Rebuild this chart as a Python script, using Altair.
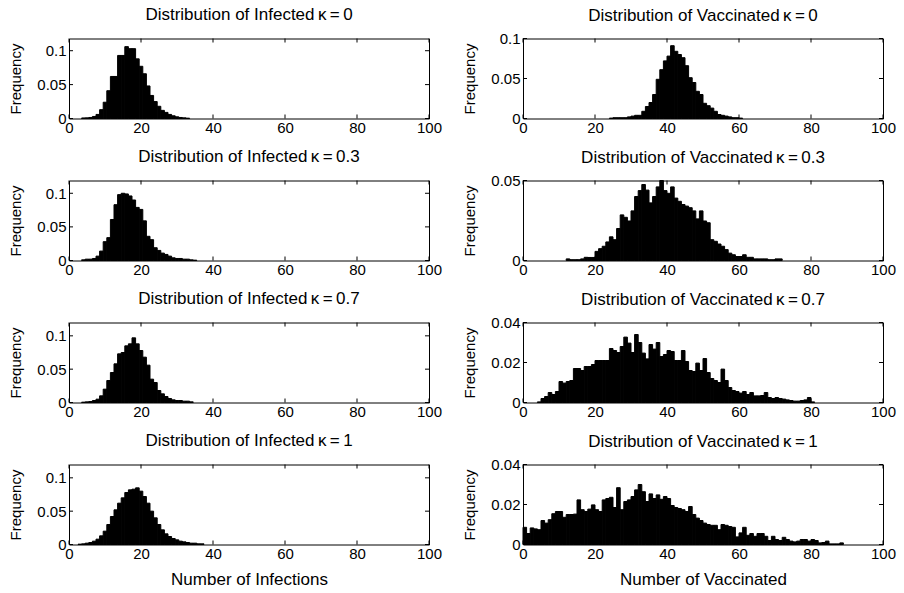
import altair as alt
import pandas as pd

FONT = "Liberation Sans"

X_TICKS = [0, 20, 40, 60, 80, 100]

# ---- titles ----
INF_TITLES = [
    "Distribution of Infected\u2009κ\u2009=\u20090",
    "Distribution of Infected\u2009κ\u2009=\u20090.3",
    "Distribution of Infected\u2009κ\u2009=\u20090.7",
    "Distribution of Infected\u2009κ\u2009=\u20091",
]
VAC_TITLES = [
    "Distribution of Vaccinated\u2009κ\u2009=\u20090",
    "Distribution of Vaccinated\u2009κ\u2009=\u20090.3",
    "Distribution of Vaccinated\u2009κ\u2009=\u20090.7",
    "Distribution of Vaccinated\u2009κ\u2009=\u20091",
]
X_TITLE_INF = "Number of Infections"
X_TITLE_VAC = "Number of Vaccinated"
Y_TITLE = "Frequency"

# ---- infected histograms (first bin centre, then frequencies, bin width 1) ----
INF_K0_C0 = 4
INF_K0 = [0.0008, 0.001, 0.0015, 0.003, 0.006, 0.013, 0.024, 0.041, 0.062, 0.062,
          0.093, 0.093, 0.106, 0.103, 0.103, 0.088, 0.077, 0.066, 0.048, 0.034,
          0.025, 0.018, 0.012, 0.009, 0.006, 0.004, 0.0025, 0.0015, 0.001, 0.0005]

INF_K03_C0 = 4
INF_K03 = [0.001, 0.002, 0.002, 0.003, 0.0065, 0.014, 0.028, 0.034, 0.061, 0.083,
           0.098, 0.1, 0.099, 0.096, 0.09, 0.079, 0.076, 0.059, 0.036, 0.031,
           0.019, 0.015, 0.011, 0.009, 0.0065, 0.004, 0.003, 0.003, 0.002, 0.002,
           0.001, 0.0005]

INF_K07_C0 = 4
INF_K07 = [0.0005, 0.001, 0.0015, 0.003, 0.005, 0.01, 0.02, 0.033, 0.045, 0.058,
           0.073, 0.075, 0.085, 0.088, 0.097, 0.088, 0.078, 0.068, 0.056, 0.035,
           0.03, 0.018, 0.013, 0.009, 0.006, 0.004, 0.003, 0.003, 0.002, 0.002,
           0.001]

INF_K1_C0 = 3
INF_K1 = [0.0005, 0.001, 0.002, 0.003, 0.005, 0.008, 0.013, 0.02, 0.03, 0.042,
          0.052, 0.062, 0.07, 0.078, 0.082, 0.083, 0.085, 0.08, 0.072, 0.062,
          0.05, 0.04, 0.03, 0.022, 0.016, 0.012, 0.009, 0.007, 0.005, 0.004,
          0.003, 0.002, 0.002, 0.001, 0.001]

# ---- vaccinated histograms ----
VAC_K0_C0 = 24.5
VAC_K0 = [0.0005, 0.001, 0.001, 0.001, 0.001, 0.002, 0.003, 0.004, 0.004, 0.009,
          0.015, 0.02, 0.03, 0.049, 0.061, 0.072, 0.078, 0.091, 0.084, 0.08,
          0.076, 0.066, 0.051, 0.045, 0.034, 0.03, 0.019, 0.016, 0.013, 0.009,
          0.005, 0.004, 0.003, 0.002, 0.001, 0.001, 0.0005]

VAC_K03_C0 = 12.5
VAC_K03 = [0.001, 0.0005, 0.0005, 0.0005, 0.001, 0.002, 0.0019, 0.0019, 0.0057, 0.0074,
           0.0089, 0.0116, 0.0148, 0.013, 0.02, 0.0285, 0.027, 0.0247, 0.031, 0.04,
           0.0437, 0.0475, 0.044, 0.036, 0.04, 0.046, 0.05, 0.0437, 0.042, 0.046,
           0.039, 0.037, 0.035, 0.034, 0.033, 0.031, 0.026, 0.031, 0.0247, 0.0236,
           0.013, 0.012, 0.0103, 0.0089, 0.0068, 0.0046, 0.0036, 0.0025, 0.0025, 0.0036,
           0.002, 0.002, 0.001, 0.001, 0.001, 0.001, 0.0005, 0.0005, 0.001, 0.001]

VAC_K07_C0 = 4.5
VAC_K07 = [0.0003, 0.002, 0.003, 0.005, 0.004, 0.0055, 0.0105, 0.0097, 0.0105, 0.011,
           0.017, 0.017, 0.016, 0.018, 0.018, 0.019, 0.021, 0.021, 0.021, 0.021,
           0.027, 0.026, 0.025, 0.028, 0.0327, 0.0297, 0.025, 0.034, 0.03, 0.0247,
           0.0218, 0.029, 0.0267, 0.03, 0.023, 0.024, 0.026, 0.0255, 0.021, 0.021,
           0.026, 0.0205, 0.016, 0.0155, 0.0197, 0.016, 0.022, 0.015, 0.012, 0.011,
           0.01, 0.0167, 0.011, 0.0075, 0.006, 0.0055, 0.0047, 0.0055, 0.004, 0.005,
           0.0033, 0.0033, 0.0035, 0.005, 0.0025, 0.002, 0.0025, 0.002, 0.0017, 0.0013,
           0.001, 0.0007, 0.0007, 0.001, 0.0013, 0.0025, 0.0003]

VAC_K1_C0 = 0.5
VAC_K1 = [0.0086, 0.0055, 0.0083, 0.0078, 0.0074, 0.012, 0.0107, 0.0124, 0.0154, 0.0165,
          0.0165, 0.0136, 0.015, 0.015, 0.0152, 0.0223, 0.0174, 0.0165, 0.0177, 0.0198,
          0.0174, 0.0165, 0.0223, 0.023, 0.0236, 0.0185, 0.0284, 0.0174, 0.0215, 0.0223,
          0.024, 0.0273, 0.03, 0.0264, 0.0215, 0.0253, 0.023, 0.0248, 0.0226, 0.024,
          0.023, 0.0195, 0.0185, 0.018, 0.0174, 0.0165, 0.019, 0.015, 0.0132, 0.012,
          0.0107, 0.01, 0.0096, 0.0096, 0.0074, 0.01, 0.0096, 0.009, 0.0086, 0.0038,
          0.0058, 0.0086, 0.0046, 0.0055, 0.0041, 0.0055, 0.0055, 0.0041, 0.002, 0.0041,
          0.0025, 0.002, 0.0036, 0.0025, 0.0017, 0.0013, 0.0017, 0.0025, 0.0025, 0.0017,
          0.0025, 0.002, 0.0008, 0.001, 0.0017, 0.0003, 0.0003, 0.0003, 0.0008]

# ---- axis limits / ticks per panel ----
INF_YMAX = [0.118, 0.119, 0.12, 0.12]
INF_YTICKS = [[0, 0.05, 0.1]] * 4
VAC_YMAX = [0.1, 0.05, 0.04, 0.04]
VAC_YTICKS = [[0, 0.05, 0.1], [0, 0.05], [0, 0.02, 0.04], [0, 0.02, 0.04]]

INF = [(INF_K0_C0, INF_K0), (INF_K03_C0, INF_K03), (INF_K07_C0, INF_K07), (INF_K1_C0, INF_K1)]
VAC = [(VAC_K0_C0, VAC_K0), (VAC_K03_C0, VAC_K03), (VAC_K07_C0, VAC_K07), (VAC_K1_C0, VAC_K1)]

W, H = 360, 80
TICK = 4
LABEL_FS = 15
TITLE_FS = 17
AXTITLE_FS = 17


def panel(c0, heights, ymax, yticks, title, xtitle, title_offset):
    df = pd.DataFrame({
        "lo": [c0 + i - 0.5 for i in range(len(heights))],
        "hi": [c0 + i + 0.5 for i in range(len(heights))],
        "freq": heights,
    })
    xs = alt.Scale(domain=[0, 100], nice=False, zero=False)
    ys = alt.Scale(domain=[0, ymax], nice=False, zero=True)
    xaxis = alt.Axis(values=X_TICKS, tickCount=20, ticks=False, domain=False, grid=False,
                     labelFontSize=LABEL_FS, labelFont=FONT, labelColor="black",
                     labelPadding=2, labelFlush=False, labelOverlap=False,
                     titleFontSize=AXTITLE_FS, titleFont=FONT, titleColor="black",
                     titleFontWeight="normal", titlePadding=10)
    yaxis = alt.Axis(values=yticks, tickCount=20, format="~g", ticks=False, domain=False,
                     grid=False, labelFontSize=LABEL_FS, labelFont=FONT, labelColor="black",
                     labelPadding=3, minExtent=32, maxExtent=32, labelOverlap=False,
                     titleFontSize=15, titleFont=FONT, titleColor="black",
                     titleFontWeight="normal", titlePadding=14)
    if xtitle:
        xenc = alt.X("lo:Q", scale=xs, axis=xaxis, title=xtitle)
    else:
        xenc = alt.X("lo:Q", scale=xs, axis=xaxis, title=None)
    bars = alt.Chart(df).mark_rect(color="black", stroke="black", strokeWidth=1).encode(
        x=xenc,
        x2="hi:Q",
        y=alt.Y("freq:Q", scale=ys, axis=yaxis, title=Y_TITLE),
        y2=alt.datum(0),
    )
    xt = pd.DataFrame({"t": X_TICKS})
    yt = pd.DataFrame({"t": yticks})
    bottom = alt.Chart(xt).mark_rule(color="black").encode(
        x=alt.X("t:Q", scale=xs), y=alt.value(H), y2=alt.value(H - TICK))
    top = alt.Chart(xt).mark_rule(color="black").encode(
        x=alt.X("t:Q", scale=xs), y=alt.value(0), y2=alt.value(TICK))
    left = alt.Chart(yt).mark_rule(color="black").encode(
        y=alt.Y("t:Q", scale=ys), x=alt.value(0), x2=alt.value(TICK))
    right = alt.Chart(yt).mark_rule(color="black").encode(
        y=alt.Y("t:Q", scale=ys), x=alt.value(W), x2=alt.value(W - TICK))
    return alt.layer(bars, bottom, top, left, right).properties(
        width=W, height=H,
        title=alt.TitleParams(title, fontSize=TITLE_FS, font=FONT, fontWeight="normal",
                              color="black", offset=title_offset, frame="group"),
    )


panels = []
for r in range(4):
    xt_inf = X_TITLE_INF if r == 3 else None
    xt_vac = X_TITLE_VAC if r == 3 else None
    panels.append(panel(INF[r][0], INF[r][1], INF_YMAX[r], INF_YTICKS[r], INF_TITLES[r], xt_inf, 14))
    panels.append(panel(VAC[r][0], VAC[r][1], VAC_YMAX[r], VAC_YTICKS[r], VAC_TITLES[r], xt_vac, 6.5))

chart = alt.concat(*panels, columns=2, spacing={"row": 62, "column": 94}, bounds="flush").properties(
    padding={"left": 7, "top": 5.5, "right": 5, "bottom": 5},
    background="white",
).configure_view(stroke="black", strokeWidth=1).configure_axis(labelOverlap=False)

chart.save("out.html", embed_options={"renderer": "svg", "actions": False})
